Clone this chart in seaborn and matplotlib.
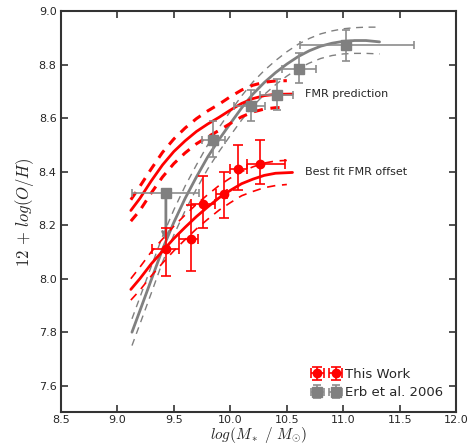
import numpy as np
import matplotlib
matplotlib.use("Agg")
import matplotlib.pyplot as plt
import seaborn as sns

sns.set_style("ticks")
plt.rcParams["font.family"] = ["DejaVu Sans"]
plt.rcParams["mathtext.fontset"] = "cm"

# ---------------- data ----------------
# This Work (red points)
tw_x = [9.43, 9.65, 9.76, 9.94, 10.07, 10.26]
tw_y = [8.11, 8.15, 8.28, 8.315, 8.41, 8.43]
tw_xlo = [0.12, 0.10, 0.11, 0.065, 0.07, 0.11]
tw_xhi = [0.12, 0.06, 0.105, 0.03, 0.08, 0.22]
tw_ylo = [0.10, 0.12, 0.09, 0.09, 0.08, 0.075]
tw_yhi = [0.08, 0.125, 0.105, 0.085, 0.09, 0.09]

# Erb et al. 2006 (grey squares); first point is an upper limit
erb_x = [9.43, 9.85, 10.18, 10.41, 10.61, 11.02]
erb_y = [8.32, 8.52, 8.645, 8.685, 8.785, 8.875]
erb_xlo = [0.30, 0.10, 0.15, 0.15, 0.15, 0.40]
erb_xhi = [0.29, 0.105, 0.13, 0.145, 0.15, 0.605]
erb_ylo = [0.0, 0.065, 0.055, 0.055, 0.055, 0.06]
erb_yhi = [0.0, 0.07, 0.06, 0.06, 0.06, 0.055]
erb_limit_y = 8.14

# Erb 2006 mass-metallicity curve and its band
erb_cx = [9.13, 9.2, 9.3, 9.4, 9.5, 9.6, 9.7, 9.8, 9.9, 10.0, 10.1, 10.2, 10.3,
          10.4, 10.5, 10.6, 10.7, 10.8, 10.9, 11.0, 11.1, 11.2, 11.32]
erb_cy = [7.80, 7.88, 7.995, 8.11, 8.21, 8.30, 8.38, 8.455, 8.52, 8.58, 8.638, 8.69, 8.733,
          8.77, 8.802, 8.83, 8.852, 8.869, 8.88, 8.887, 8.89, 8.89, 8.885]
erb_cy_hi = [7.85, 7.93, 8.045, 8.158, 8.257, 8.346, 8.425, 8.50, 8.565, 8.625, 8.683, 8.735, 8.778,
             8.815, 8.848, 8.876, 8.898, 8.915, 8.926, 8.934, 8.938, 8.94, 8.94]
erb_cy_lo = [7.75, 7.83, 7.945, 8.062, 8.163, 8.254, 8.335, 8.41, 8.475, 8.535, 8.593, 8.645, 8.688,
             8.725, 8.757, 8.785, 8.806, 8.823, 8.834, 8.84, 8.842, 8.842, 8.84]

# FMR prediction and best fit offset
fmr_x = [9.12, 9.2, 9.3, 9.4, 9.5, 9.6, 9.7, 9.8, 9.9, 10.0, 10.1, 10.2, 10.3, 10.4, 10.55]
fmr_y = [8.255, 8.30, 8.365, 8.425, 8.475, 8.515, 8.55, 8.578, 8.603, 8.63, 8.655, 8.673, 8.684, 8.689, 8.69]
band_x = [9.12, 9.2, 9.3, 9.4, 9.5, 9.6, 9.7, 9.8, 9.9, 10.0, 10.1, 10.2, 10.3, 10.4, 10.5]
fmr_hi = [8.295, 8.345, 8.41, 8.472, 8.522, 8.563, 8.598, 8.627, 8.652, 8.68, 8.705, 8.723, 8.734, 8.739, 8.74]
fmr_lo = [8.215, 8.255, 8.32, 8.38, 8.43, 8.47, 8.504, 8.53, 8.554, 8.58, 8.605, 8.623, 8.634, 8.639, 8.64]
fit_y = [7.96, 8.00, 8.055, 8.103, 8.15, 8.192, 8.232, 8.268, 8.302, 8.33, 8.355, 8.372, 8.386, 8.394, 8.397]
fit_hi = [8.0, 8.043, 8.1, 8.148, 8.196, 8.238, 8.278, 8.314, 8.348, 8.376, 8.4, 8.418, 8.432, 8.44, 8.442]
fit_lo = [7.92, 7.957, 8.01, 8.058, 8.104, 8.146, 8.186, 8.222, 8.256, 8.284, 8.31, 8.326, 8.34, 8.348, 8.352]

red = "#ff0000"
grey = "#808080"

fig = plt.figure(figsize=(4.71, 4.44), dpi=100)
ax = fig.add_axes([0.129, 0.071, 0.840, 0.904])

# curves
sns.lineplot(x=erb_cx, y=erb_cy, ax=ax, color=grey, lw=2, sort=False)
for yy in (erb_cy_hi, erb_cy_lo):
    sns.lineplot(x=erb_cx, y=yy, ax=ax, color=grey, lw=1, sort=False,
                 linestyle=(0, (5, 4)))
sns.lineplot(x=fmr_x, y=fmr_y, ax=ax, color=red, lw=2, sort=False)
sns.lineplot(x=fmr_x, y=fit_y, ax=ax, color=red, lw=2, sort=False)
for yy in (fmr_hi, fmr_lo):
    sns.lineplot(x=band_x, y=yy, ax=ax, color=red, lw=2.2, sort=False,
                 linestyle=(0, (3, 2.5)))
for yy in (fit_hi, fit_lo):
    sns.lineplot(x=band_x, y=yy, ax=ax, color=red, lw=1.2, sort=False,
                 linestyle=(0, (5, 4)))

# Erb points
ax.errorbar(erb_x, erb_y, xerr=[erb_xlo, erb_xhi], yerr=[erb_ylo, erb_yhi],
            fmt="s", color=grey, ms=6.5, ecolor="#8c8c8c", elinewidth=1.2,
            capsize=3, capthick=1.2, label="Erb et al. 2006", zorder=3)
ax.annotate("", xy=(erb_x[0], erb_limit_y), xytext=(erb_x[0], erb_y[0]),
            arrowprops=dict(arrowstyle="->", color=grey, lw=2,
                            shrinkA=0, shrinkB=0, mutation_scale=12))

# This Work points
ax.errorbar(tw_x, tw_y, xerr=[tw_xlo, tw_xhi], yerr=[tw_ylo, tw_yhi],
            fmt="o", color=red, ms=6, ecolor=red, elinewidth=1.2,
            capsize=3.5, capthick=1.2, label="This Work", zorder=4)

ax.text(10.66, fmr_y[-1], "FMR prediction", fontsize=8, va="center")
ax.text(10.66, fit_y[-1], "Best fit FMR offset", fontsize=8, va="center")

ax.set_xlim(8.5, 12.0)
ax.set_ylim(7.5, 9.0)
ax.set_xticks(np.arange(8.5, 12.01, 0.5))
ax.set_yticks(np.arange(7.6, 9.01, 0.2))
ax.xaxis.set_major_formatter(matplotlib.ticker.FormatStrFormatter("%.1f"))
ax.yaxis.set_major_formatter(matplotlib.ticker.FormatStrFormatter("%.1f"))
ax.tick_params(direction="in", top=True, right=True, length=5, width=1.2,
               labelsize=8, color="#333333")
ax.tick_params(axis="x", pad=1.5)
ax.tick_params(axis="y", pad=3)
for s in ax.spines.values():
    s.set_linewidth(1.5)
    s.set_color("#333333")

ax.set_xlabel(r"$log(M_*\ /\ M_{\odot})$", fontsize=11, labelpad=0)
ax.set_ylabel(r"$12\, +\, log(O/H)$", fontsize=12, labelpad=2)

h, l = ax.get_legend_handles_labels()
order = [l.index("This Work"), l.index("Erb et al. 2006")]
ax.legend([h[i] for i in order], [l[i] for i in order], loc="lower right",
          frameon=False, numpoints=2, fontsize=9.5, handletextpad=0.4,
          borderaxespad=0.6, labelspacing=0.4)

fig.savefig("out.png", dpi=100)
